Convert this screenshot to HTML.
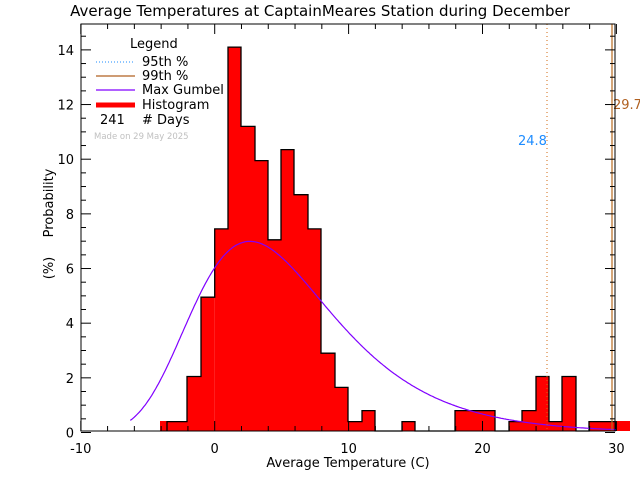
<!DOCTYPE html>
<html><head><meta charset="utf-8"><style>
body{margin:0;background:#fff}
svg{display:block}
text{font-family:"DejaVu Sans","Liberation Sans",sans-serif;}
</style></head><body>
<svg id="s" width="640" height="480" xmlns="http://www.w3.org/2000/svg">
<rect width="640" height="480" fill="#fff"/>
<g id="bars" fill="#ff0000"></g>
<path id="out" fill="none" stroke="#000" stroke-width="1.3"/>
<rect x="616" y="421" width="14" height="10" fill="#ff0000"/>
<path id="gum" fill="none" stroke="#8000ff" stroke-width="1.2"/>
<line x1="547" y1="24" x2="547" y2="431" stroke="#d06a10" stroke-width="1" stroke-dasharray="1,3"/>
<line x1="612" y1="24" x2="612" y2="431" stroke="#b86a20" stroke-width="1.2"/>
<text x="518" y="145" font-size="13" fill="#1e8cff">24.8</text>
<text x="613" y="109" font-size="13" fill="#b06020">29.7</text>
<g id="ax" stroke="#000" stroke-width="1" fill="none"></g>
<g id="lab" font-size="13" fill="#000"></g>
<text x="320" y="16" font-size="15" text-anchor="middle">Average Temperatures at CaptainMeares Station during December</text>
<text x="348" y="467" font-size="13" text-anchor="middle">Average Temperature (C)</text>
<text transform="translate(53,203) rotate(-90)" font-size="13" text-anchor="middle">Probability</text>
<text transform="translate(53,268) rotate(-90)" font-size="13" text-anchor="middle">(%)</text>
<text x="130" y="48" font-size="13">Legend</text>
<line x1="96" y1="62" x2="135" y2="62" stroke="#1e8cff" stroke-dasharray="1,2"/>
<text x="142" y="66" font-size="13">95th %</text>
<line x1="96" y1="76" x2="135" y2="76" stroke="#b06020" stroke-width="1.2"/>
<text x="142" y="80" font-size="13">99th %</text>
<line x1="96" y1="90" x2="135" y2="90" stroke="#8000ff" stroke-width="1.2"/>
<text x="142" y="94" font-size="13">Max Gumbel</text>
<line x1="96" y1="105" x2="135" y2="105" stroke="#ff0000" stroke-width="5"/>
<text x="142" y="109" font-size="13">Histogram</text>
<text x="100" y="124" font-size="13">241</text>
<text x="142" y="124" font-size="13"># Days</text>
<text x="94" y="139" font-size="8.5" fill="#c0c0c0">Made on 29 May 2025</text>
</svg>
<script>
var X=function(t){return 214.7+t*13.39}, Y=function(p){return 432.5-p*27.33};
var bars=[[167,187,0.4],[187,201,2.05],[201,214.7,4.95],[214.7,228,7.45],[228,241,14.1],[241,255,11.2],[255,268,9.95],[268,281,7.05],[281,294,10.35],[294,308,8.7],[308,321,7.45],[321,335,2.9],[335,348,1.65],[348,362,0.4],[362,375,0.8],[375,402,0],[402,415,0.4],[415,455,0],[455,495,0.8],[495,509,0],[509,522,0.4],[522,536,0.8],[536,549,2.05],[549,562,0.4],[562,576,2.05],[576,589,0],[589,616,0.4]];
var h='<rect x="160" y="421" width="7" height="10"/>',o='M167 431';
bars.forEach(function(b){var y=b[2]>0?Y(b[2]):431;h+='<rect x="'+b[0]+'" y="'+y.toFixed(1)+'" width="'+(b[1]-b[0])+'" height="'+(431-y).toFixed(1)+'"/>';o+='L'+b[0]+' '+y.toFixed(1)+'L'+b[1]+' '+y.toFixed(1);});
o+='L616 431';
document.getElementById('bars').innerHTML=h;
document.getElementById('out').setAttribute('d',o);
var mu=2.63,be=5.26,d='';
for(var t=-6.3;t<=30.05;t+=0.1){var z=(t-mu)/be;var p=100/be*Math.exp(-(z+Math.exp(-z)));d+=(d?'L':'M')+X(t).toFixed(1)+' '+Y(p).toFixed(1);}
document.getElementById('gum').setAttribute('d',d);
var a='<rect x="81" y="24" width="534" height="407"/>',l='';
for(var t=-10;t<=30;t+=2){var x=X(t),L=(t%10==0)?10:5;a+='<line x1="'+x+'" y1="431" x2="'+x+'" y2="'+(431-L)+'"/><line x1="'+x+'" y1="24" x2="'+x+'" y2="'+(24+L)+'"/>';if(t%10==0)l+='<text x="'+x+'" y="453" text-anchor="middle">'+t+'</text>';}
for(var p=0;p<=14.9;p+=0.5){var y=Y(p),L=(p%2==0)?10:5;a+='<line x1="81" y1="'+y+'" x2="'+(81+L)+'" y2="'+y+'"/><line x1="615" y1="'+y+'" x2="'+(615-L)+'" y2="'+y+'"/>';if(p%2==0)l+='<text x="74" y="'+(y+5)+'" text-anchor="end">'+p+'</text>';}
document.getElementById('ax').innerHTML=a;document.getElementById('lab').innerHTML=l;
</script>
</body></html>
